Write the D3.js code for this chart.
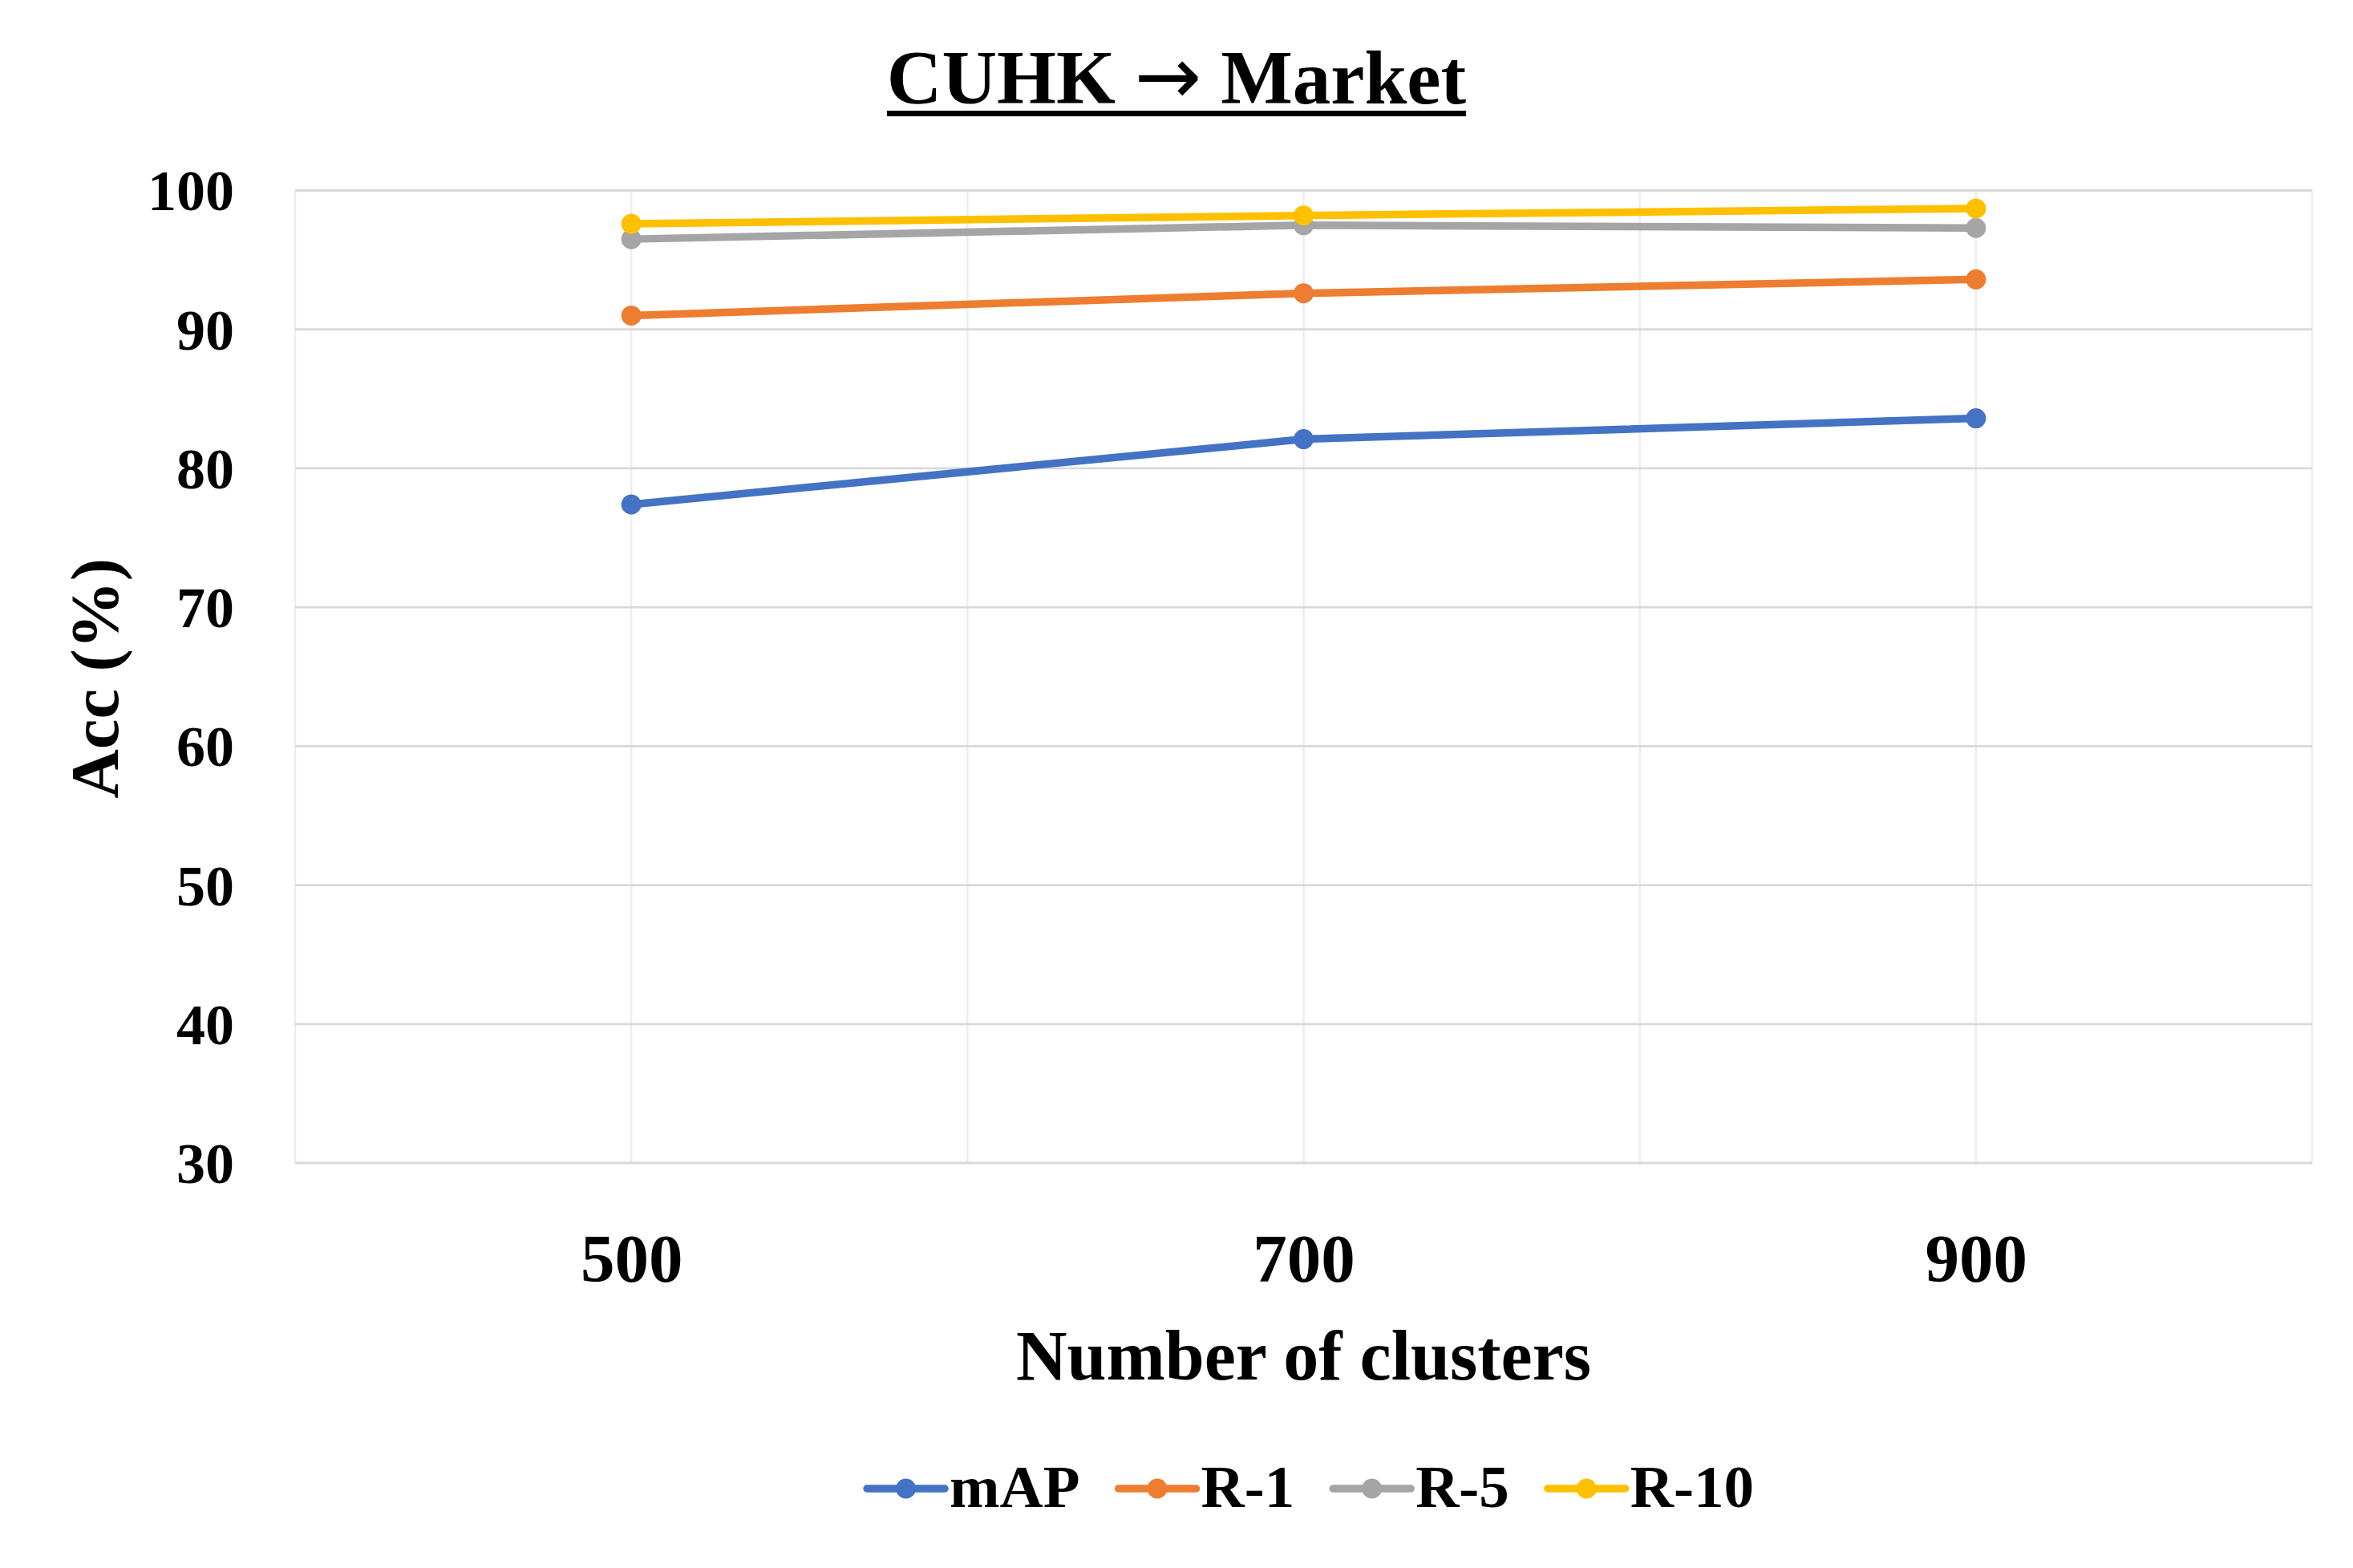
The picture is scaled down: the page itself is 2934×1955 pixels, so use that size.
<!DOCTYPE html>
<html><head><meta charset="utf-8">
<script src="https://cdn.jsdelivr.net/npm/d3@7"></script>
<style>html,body{margin:0;padding:0;background:#fff;} svg{display:block;}</style>
</head><body>
<svg id="chart" width="2934" height="1955"></svg>
<script>
const titleParts = ["CUHK ", "\u2192", " Market"];
const xTitle = "Number of clusters";
const yTitle = "Acc (%)";
const clusters = [500, 700, 900];
const seriesNames = ["mAP", "R-1", "R-5", "R-10"];
const mAP = [77.4, 82.1, 83.6];
const r1 = [91.0, 92.6, 93.6];
const r5 = [96.5, 97.5, 97.3];
const r10 = [97.6, 98.2, 98.7];
const colors = ["#4472C4", "#ED7D31", "#A5A5A5", "#FFC000"];
const yTicks = [30, 40, 50, 60, 70, 80, 90, 100];
const xLabelTicks = [500, 700, 900];
const xGridTicks = [400, 500, 600, 700, 800, 900, 1000];

const seriesValues = [mAP, r1, r5, r10];
const FONT = "'Liberation Serif', 'Times New Roman', serif";

const svg = d3.select("#chart");
const W = 2934, H = 1955;
const plot = {left: 368, right: 2883, top: 237.5, bottom: 1450};

const x = d3.scaleLinear().domain([400, 1000]).range([plot.left, plot.right]);
const y = d3.scaleLinear().domain([30, 100]).range([plot.bottom, plot.top]);

// vertical grid
svg.append("g").selectAll("line").data(xGridTicks).join("line")
  .attr("x1", d => x(d)).attr("x2", d => x(d))
  .attr("y1", plot.top).attr("y2", plot.bottom)
  .attr("stroke", "#ededed").attr("stroke-width", 2.5);

// horizontal grid
svg.append("g").selectAll("line").data(yTicks).join("line")
  .attr("x1", plot.left).attr("x2", plot.right)
  .attr("y1", d => y(d)).attr("y2", d => y(d))
  .attr("stroke", "#d9d9d9").attr("stroke-width", 2.8);

// y axis labels
const yAxis = d3.axisLeft(y).tickValues(yTicks).tickSize(0).tickPadding(76).tickFormat(d3.format("d"));
const gy = svg.append("g").attr("transform", `translate(${plot.left},0)`).call(yAxis);
gy.select(".domain").remove();
gy.selectAll("text").attr("font-family", FONT).attr("font-weight", "bold")
  .attr("font-size", 72).attr("fill", "#000").attr("dy", "0.34em");

// x axis labels
const xAxis = d3.axisBottom(x).tickValues(xLabelTicks).tickSize(0).tickPadding(0).tickFormat(d3.format("d"));
const gx = svg.append("g").attr("transform", `translate(0,${plot.bottom})`).call(xAxis);
gx.select(".domain").remove();
gx.selectAll("text").attr("font-family", FONT).attr("font-weight", "bold")
  .attr("font-size", 85).attr("fill", "#000").attr("y", 148).attr("dy", 0);

// series
const line = d3.line().x((d, i) => x(clusters[i])).y(d => y(d));
seriesValues.forEach((vals, s) => {
  const g = svg.append("g");
  g.append("path").datum(vals).attr("d", line)
    .attr("fill", "none").attr("stroke", colors[s]).attr("stroke-width", 9.5)
    .attr("stroke-linejoin", "round");
  g.selectAll("circle").data(vals).join("circle")
    .attr("cx", (d, i) => x(clusters[i])).attr("cy", d => y(d))
    .attr("r", 12.5).attr("fill", colors[s]);
});

// title
const title = svg.append("text").attr("x", W / 2).attr("y", 129)
  .attr("text-anchor", "middle").attr("font-family", FONT).attr("font-weight", "bold")
  .attr("font-size", 95).attr("fill", "#000");
title.append("tspan").text(titleParts[0]);
title.append("tspan").attr("font-family", "'DejaVu Sans', sans-serif").attr("font-weight", "normal")
  .attr("font-size", 100).text(titleParts[1]);
title.append("tspan").text(titleParts[2]);
const tw = title.node().getComputedTextLength();
svg.append("line").attr("x1", W / 2 - tw / 2).attr("x2", W / 2 + tw / 2)
  .attr("y1", 141.5).attr("y2", 141.5).attr("stroke", "#000").attr("stroke-width", 7);

// axis titles
svg.append("text").attr("x", (plot.left + plot.right) / 2).attr("y", 1720)
  .attr("text-anchor", "middle").attr("font-family", FONT).attr("font-weight", "bold")
  .attr("font-size", 88).attr("fill", "#000").text(xTitle);

svg.append("text").attr("transform", `translate(147,${(plot.top + plot.bottom) / 2 + 2}) rotate(-90)`)
  .attr("text-anchor", "middle").attr("font-family", FONT).attr("font-weight", "bold")
  .attr("font-size", 85).attr("fill", "#000").text(yTitle);

// legend
const legY = 1856;
const lineLen = 97, textGap = 6, itemGap = 48;
const leg = svg.append("g");
const items = seriesNames.map((name, i) => {
  const g = leg.append("g");
  const t = g.append("text").attr("x", lineLen + textGap).attr("y", 23)
    .attr("font-family", FONT).attr("font-weight", "bold").attr("font-size", 75)
    .attr("fill", "#000").text(name);
  g.append("line").attr("x1", 0).attr("x2", lineLen).attr("y1", 0).attr("y2", 0)
    .attr("stroke", colors[i]).attr("stroke-width", 9.5).attr("stroke-linecap", "round");
  g.append("circle").attr("cx", lineLen / 2).attr("cy", 0).attr("r", 12.5).attr("fill", colors[i]);
  return {g, w: lineLen + textGap + t.node().getComputedTextLength()};
});
const totalW = d3.sum(items, d => d.w) + itemGap * (items.length - 1);
let cx = 1634 - totalW / 2;
items.forEach(it => { it.g.attr("transform", `translate(${cx},${legY})`); cx += it.w + itemGap; });
</script>
</body></html>
